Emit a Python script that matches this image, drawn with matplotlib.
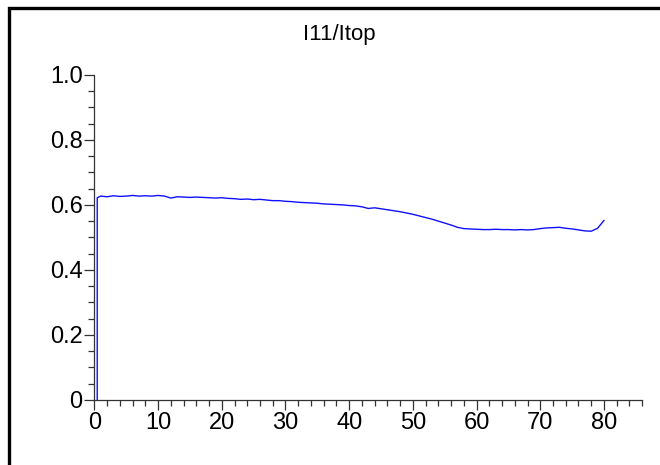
import matplotlib
matplotlib.use("Agg")
import matplotlib.pyplot as plt
from matplotlib.patches import Rectangle
from matplotlib.ticker import MultipleLocator, FuncFormatter

plt.rcParams["font.family"] = ["Liberation Sans", "DejaVu Sans"]

# time-ish axis and ratio I11/Itop
x = [0.45, 0.45, 1, 2, 3, 4, 5, 6, 7, 8, 9, 10, 11, 12, 13, 14, 15, 16, 17, 18, 19,
     20, 21, 22, 23, 24, 25, 26, 27, 28, 29, 30, 31, 32, 33, 34, 35, 36, 37, 38, 39,
     40, 41, 42, 43, 44, 45, 46, 47, 48, 49, 50, 51, 52, 53, 54, 55, 56, 57, 58, 59,
     60, 61, 62, 63, 64, 65, 66, 67, 68, 69, 70, 71, 72, 73, 74, 75, 76, 77, 78, 79,
     79.5, 80]
ratio = [0.0, 0.622, 0.627, 0.625, 0.628, 0.626, 0.627, 0.629, 0.627, 0.628, 0.627,
         0.629, 0.627, 0.621, 0.625, 0.624, 0.623, 0.624, 0.623, 0.622, 0.621,
         0.622, 0.620, 0.619, 0.617, 0.618, 0.616, 0.617, 0.615, 0.613, 0.613,
         0.611, 0.610, 0.608, 0.607, 0.606, 0.605, 0.603, 0.602, 0.601, 0.600,
         0.598, 0.597, 0.594, 0.589, 0.591, 0.588, 0.585, 0.582, 0.579, 0.575,
         0.571, 0.566, 0.561, 0.556, 0.550, 0.544, 0.538, 0.531, 0.527, 0.526,
         0.525, 0.524, 0.524, 0.525, 0.524, 0.524, 0.523, 0.524, 0.523, 0.524,
         0.527, 0.529, 0.530, 0.531, 0.528, 0.526, 0.523, 0.520, 0.519, 0.528,
         0.540, 0.552]

fig = plt.figure(figsize=(6.6, 4.65), dpi=100)
# outer frame, only its top and left edges fall inside the picture
fig.patches.append(Rectangle((0.0136, -0.1), 1.2, 1.083, transform=fig.transFigure,
                             fill=False, ec="black", lw=2.4))

ax = fig.add_axes([0.143, 0.140, 0.830, 0.699])
ax.plot(x, ratio, color="#1010FF", lw=1.0)
ax.set_xlim(0, 86)
ax.set_ylim(0, 1.0)
for sp in ["top", "right"]:
    ax.spines[sp].set_visible(False)
ax.xaxis.set_major_locator(MultipleLocator(10))
ax.xaxis.set_minor_locator(MultipleLocator(2))
ax.yaxis.set_major_locator(MultipleLocator(0.2))
ax.yaxis.set_minor_locator(MultipleLocator(0.05))
ax.yaxis.set_major_formatter(FuncFormatter(lambda v, p: "0" if v == 0 else f"{v:.1f}"))
ax.tick_params(axis="both", which="major", direction="out", length=7.5, width=0.9,
               labelsize=17, pad=1.0, color="#333333")
ax.tick_params(axis="both", which="minor", direction="out", length=4, width=0.9, color="#333333")
for sp in ["left", "bottom"]:
    ax.spines[sp].set_linewidth(0.9)
    ax.spines[sp].set_color("#333333")

fig.text(0.514, 0.925, "I11/Itop", ha="center", va="center", fontsize=16)
fig.savefig("out.png", dpi=100)
